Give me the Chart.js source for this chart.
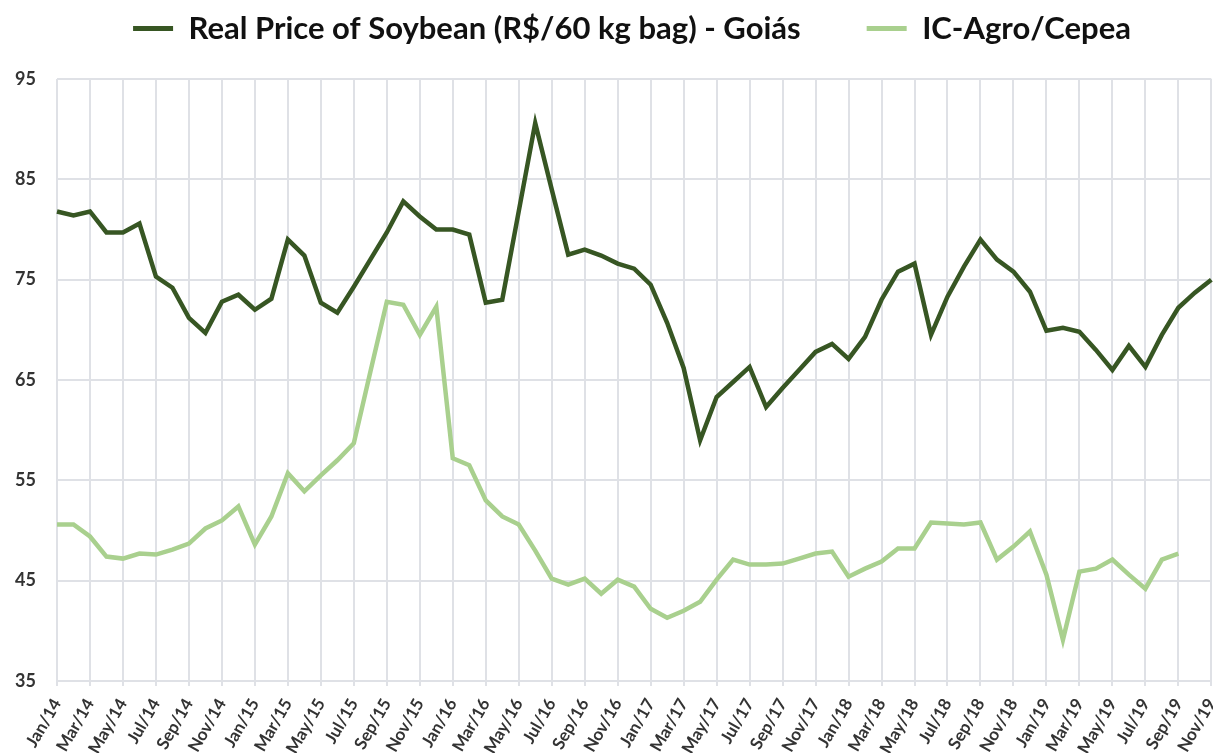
<!DOCTYPE html>
<html>
<head>
<meta charset="utf-8">
<script src="https://cdn.jsdelivr.net/npm/chart.js@4.4.1/dist/chart.umd.min.js"></script>
<style>
  html, body { margin: 0; padding: 0; background: #fff; overflow: hidden; }
  #wrap { width: 1238px; height: 753px; }
</style>
</head>
<body>
<div id="wrap"><canvas id="chart"></canvas></div>
<script>
const months = [
  "Jan/14", "Feb/14", "Mar/14", "Apr/14", "May/14", "Jun/14", "Jul/14", "Aug/14", "Sep/14", "Oct/14", "Nov/14", "Dec/14",
  "Jan/15", "Feb/15", "Mar/15", "Apr/15", "May/15", "Jun/15", "Jul/15", "Aug/15", "Sep/15", "Oct/15", "Nov/15", "Dec/15",
  "Jan/16", "Feb/16", "Mar/16", "Apr/16", "May/16", "Jun/16", "Jul/16", "Aug/16", "Sep/16", "Oct/16", "Nov/16", "Dec/16",
  "Jan/17", "Feb/17", "Mar/17", "Apr/17", "May/17", "Jun/17", "Jul/17", "Aug/17", "Sep/17", "Oct/17", "Nov/17", "Dec/17",
  "Jan/18", "Feb/18", "Mar/18", "Apr/18", "May/18", "Jun/18", "Jul/18", "Aug/18", "Sep/18", "Oct/18", "Nov/18", "Dec/18",
  "Jan/19", "Feb/19", "Mar/19", "Apr/19", "May/19", "Jun/19", "Jul/19", "Aug/19", "Sep/19", "Oct/19", "Nov/19"
];

// R$/60 kg bag, Goiás (real prices)
const soyPrice = [
  81.8, 81.4, 81.8, 79.7, 79.7, 80.6, 75.3, 74.2, 71.2, 69.7,
  72.8, 73.5, 72.0, 73.1, 79.0, 77.4, 72.7, 71.7, 74.3, 77.0,
  79.7, 82.8, 81.3, 80.0, 80.0, 79.5, 72.7, 73.0, 81.8, 90.6,
  84.0, 77.5, 78.0, 77.4, 76.6, 76.1, 74.5, 70.7, 66.2, 59.0,
  63.3, 64.8, 66.3, 62.3, 64.2, 66.0, 67.8, 68.6, 67.1, 69.3,
  73.0, 75.8, 76.6, 69.5, 73.3, 76.3, 79.0, 77.0, 75.8, 73.8,
  69.9, 70.2, 69.8, 68.0, 66.0, 68.4, 66.3, 69.5, 72.2, 73.7,
  75.0
];

const icAgro = [
  50.6, 50.6, 49.4, 47.4, 47.2, 47.7, 47.6, 48.1, 48.7, 50.2,
  51.0, 52.4, 48.6, 51.4, 55.7, 53.9, 55.5, 57.0, 58.7, 65.8,
  72.8, 72.5, 69.5, 72.3, 57.2, 56.5, 53.0, 51.4, 50.6, 48.0,
  45.2, 44.6, 45.2, 43.7, 45.1, 44.4, 42.2, 41.3, 42.0, 42.9,
  45.1, 47.1, 46.6, 46.6, 46.7, 47.2, 47.7, 47.9, 45.4, 46.2,
  46.9, 48.2, 48.2, 50.8, 50.7, 50.6, 50.8, 47.1, 48.4, 49.9,
  45.6, 39.1, 45.9, 46.2, 47.1, 45.6, 44.2, 47.1, 47.7, null,
  null
];

const gridColor = "#dfe1e6";
const tickColor = "#333333";

// the legend in the original sits a bit right of center and close to the top
const legendShift = {
  id: "legendShift",
  afterLayout(chart) {
    const lg = chart.legend;
    lg.left += 13;
    lg.right += 13;
    lg.top -= 53;
  },
};

new Chart(document.getElementById("chart"), {
  type: "line",
  data: {
    labels: months,
    datasets: [
      {
        label: "Real Price of Soybean (R$/60 kg bag) - Goiás",
        data: soyPrice,
        borderColor: "#375623",
        backgroundColor: "#375623",
        borderWidth: 4.5,
        pointRadius: 0,
        tension: 0,
      },
      {
        label: "IC-Agro/Cepea",
        data: icAgro,
        borderColor: "#a9d08e",
        backgroundColor: "#a9d08e",
        borderWidth: 4.5,
        pointRadius: 0,
        tension: 0,
      },
    ],
  },
  options: {
    responsive: true,
    maintainAspectRatio: false,
    animation: false,
    plugins: {
      legend: {
        position: "top",
        maxHeight: 79,
        labels: {
          boxWidth: 40,
          boxHeight: 5,
          padding: 66,
          color: "#111111",
          font: { family: "Lato", size: 31, weight: "bold" },
          generateLabels: (chart) =>
            Chart.defaults.plugins.legend.labels.generateLabels(chart).map((l) => ({ ...l, lineWidth: 0 })),
        },
      },
      tooltip: { enabled: false },
    },
    scales: {
      x: {
        afterFit: (scale) => {
          scale.height = 72;
        },
        grid: {
          color: (ctx) => (ctx.index % 2 === 0 ? gridColor : "transparent"),
          lineWidth: 2,
          tickLength: 5,
        },
        border: { color: gridColor, width: 2 },
        ticks: {
          autoSkip: false,
          minRotation: 60,
          maxRotation: 60,
          padding: 9,
          color: tickColor,
          font: { family: "Lato", size: 17, weight: "bold" },
          callback: function (value, index) {
            return index % 2 === 0 ? this.getLabelForValue(value) : "";
          },
        },
      },
      y: {
        min: 35,
        max: 95,
        afterFit: (scale) => {
          scale.width = 57;
        },
        grid: { color: gridColor, lineWidth: 2, drawTicks: false },
        border: { display: false },
        ticks: {
          stepSize: 10,
          padding: 21,
          color: tickColor,
          font: { family: "Lato", size: 18, weight: "bold" },
        },
      },
    },
  },
  plugins: [legendShift],
});
</script>
</body>
</html>
